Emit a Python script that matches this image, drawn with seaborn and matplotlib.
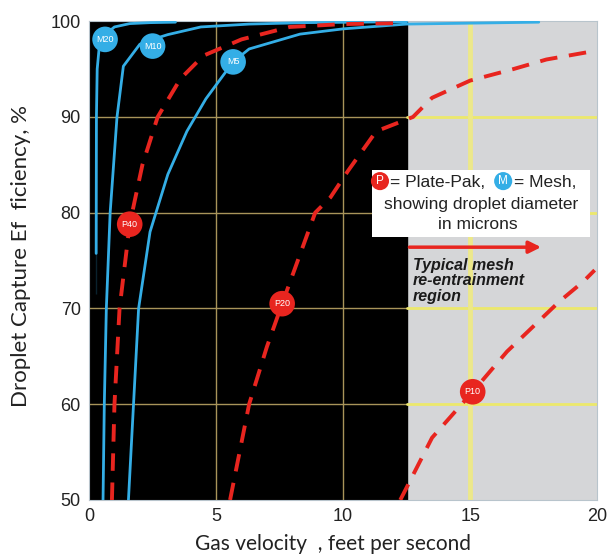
import numpy as np
import pandas as pd
import matplotlib
matplotlib.use('Agg')
import matplotlib.pyplot as plt
import seaborn as sns

# curves (gas velocity ft/s, efficiency %)
m20_x = [0.28, 0.28, 0.29, 0.32, 0.4, 0.63, 1.0, 1.6, 2.4, 3.4]
m20_y = [71.5, 80, 90, 95, 97.3, 98.6, 99.4, 99.75, 99.85, 99.9]
m10_x = [0.55, 0.6, 0.68, 0.83, 1.1, 1.35, 2.0, 2.5, 3.1, 4.4, 6.3, 8.5, 12.5]
m10_y = [50, 60, 70, 80, 90, 95.3, 97.6, 98.1, 98.6, 99.4, 99.7, 99.85, 99.95]
m5_x = [1.55, 1.75, 1.95, 2.4, 3.1, 3.85, 4.6, 5.67, 6.3, 8.3, 10.0, 12.5, 17.7]
m5_y = [50, 60, 70, 78, 84, 88.5, 91.9, 95.75, 97.1, 98.65, 99.2, 99.7, 99.9]
p40_x = [0.9, 1.0, 1.2, 1.6, 2.1, 2.7, 3.6, 4.5, 6.0, 7.9, 10.0, 12.3]
p40_y = [50, 60, 70, 78.8, 85, 90, 94, 96.4, 98.1, 99.4, 99.7, 99.8]
p20_x = [5.55, 6.3, 7.0, 7.6, 8.9, 9.5, 10.2, 11.3, 12.75, 13.5, 15.0, 16.7, 18.0, 19.7]
p20_y = [50, 60, 66, 70.5, 80, 81.6, 84.4, 88.5, 90, 92, 93.8, 95, 96, 96.8]
p10_x = [12.25, 13.5, 15.1, 16.45, 18.5, 19.45, 19.9]
p10_y = [50, 56.5, 61.3, 65.5, 70.7, 72.8, 74.0]

# label bubbles on the curves
lbl_names = ['M20', 'M10', 'M5', 'P40', 'P20', 'P10']
lbl_x = [0.63, 2.5, 5.67, 1.6, 7.6, 15.1]
lbl_y = [98.1, 97.4, 95.75, 78.8, 70.5, 61.3]

x_ticks = [0, 5, 10, 15, 20]
y_ticks = [50, 60, 70, 80, 90, 100]
mesh_limit = 12.5

BLUE = '#34aee6'
RED = '#e8251f'
TXT = '#222222'

sns.set_style('white')
plt.rcParams['font.family'] = ['Liberation Sans', 'DejaVu Sans']

fig = plt.figure(figsize=(6.1, 5.58), dpi=100)
ax = fig.add_axes([0.146, 0.104, 0.833, 0.858])
ax.set_facecolor('#d5d6d8')
ax.axvspan(0, mesh_limit, color='black', zorder=0)

# grid: olive on black, yellow on gray
for yv in y_ticks[1:-1]:
    ax.plot([0, mesh_limit], [yv, yv], color='#a8945a', lw=1.0, zorder=1)
    ax.plot([mesh_limit, 20], [yv, yv], color='#ece86c', lw=2.0, zorder=1)
for xv in x_ticks[1:-1]:
    if xv < mesh_limit:
        ax.plot([xv, xv], [50, 100], color='#a8945a', lw=1.0, zorder=1)
    else:
        ax.plot([xv, xv], [50, 100], color='#ece88a', lw=3.5, zorder=1)

for xs, ys in [(m20_x, m20_y), (m10_x, m10_y), (m5_x, m5_y)]:
    sns.lineplot(x=xs, y=ys, sort=False, color=BLUE, lw=2.0, ax=ax, zorder=3)
for xs, ys in [(p40_x, p40_y), (p20_x, p20_y), (p10_x, p10_y)]:
    sns.lineplot(x=xs, y=ys, sort=False, color=RED, lw=2.8, ax=ax, zorder=3,
                 dashes=False, linestyle=(0, (4.5, 3)))

lbl = pd.DataFrame({'x': lbl_x, 'y': lbl_y, 'name': lbl_names})
lbl['kind'] = lbl['name'].str[0]
sns.scatterplot(data=lbl, x='x', y='y', hue='kind', palette={'M': BLUE, 'P': RED},
                s=340, edgecolor='none', legend=False, ax=ax, zorder=4)
for _, r in lbl.iterrows():
    ax.text(r['x'], r['y'], r['name'], ha='center', va='center', color='white',
            fontsize=6.5, zorder=5)

# key box
ax.fill_between([11.14, 19.7], 77.5, 84.5, color='white', lw=0, zorder=6)
key = pd.DataFrame({'x': [11.45, 16.3], 'y': [83.3, 83.3], 'kind': ['P', 'M']})
sns.scatterplot(data=key, x='x', y='y', hue='kind', palette={'M': BLUE, 'P': RED},
                s=170, edgecolor='none', legend=False, ax=ax, zorder=7)
ax.text(11.45, 83.3, 'P', ha='center', va='center', color='white', fontsize=8.5, zorder=8)
ax.text(16.3, 83.3, 'M', ha='center', va='center', color='white', fontsize=8.5, zorder=8)
ax.text(11.85, 83.2, '= Plate-Pak,', ha='left', va='center', fontsize=12.5, color=TXT, zorder=8)
ax.text(16.72, 83.2, '= Mesh,', ha='left', va='center', fontsize=12.5, color=TXT, zorder=8)
ax.text(15.45, 80.9, 'showing droplet diameter', ha='center', va='center', fontsize=12.5,
        color=TXT, zorder=8)
ax.text(15.3, 78.8, 'in microns', ha='center', va='center', fontsize=12.5, color=TXT, zorder=8)

ax.annotate('', xy=(17.9, 76.4), xytext=(mesh_limit, 76.4),
            arrowprops=dict(arrowstyle='-|>', color=RED, lw=2.5, mutation_scale=18), zorder=6)
ax.text(12.75, 75.3, 'Typical mesh\nre-entrainment\nregion', ha='left', va='top',
        fontsize=11.5, fontweight='bold', fontstyle='italic', color='#1a1a1a',
        linespacing=1.05, zorder=6)

ax.set_xlim(0, 20)
ax.set_ylim(50, 100)
ax.set_xticks(x_ticks)
ax.set_yticks(y_ticks)
ax.tick_params(length=0, labelsize=13, labelcolor=TXT, pad=6)
for s in ax.spines.values():
    s.set_color('#b8c4cc')
    s.set_linewidth(0.8)
ax.set_xlabel('Gas velocity  , feet per second', fontsize=15, color=TXT,
              family=['Lato', 'DejaVu Sans'])
ax.set_ylabel('Droplet Capture Ef  ficiency, %', fontsize=16, color=TXT,
              family=['Lato', 'DejaVu Sans'])
ax.xaxis.set_label_coords(0.48, -0.072)
ax.yaxis.set_label_coords(-0.115, 0.51)

fig.savefig('out.png', dpi=100)
